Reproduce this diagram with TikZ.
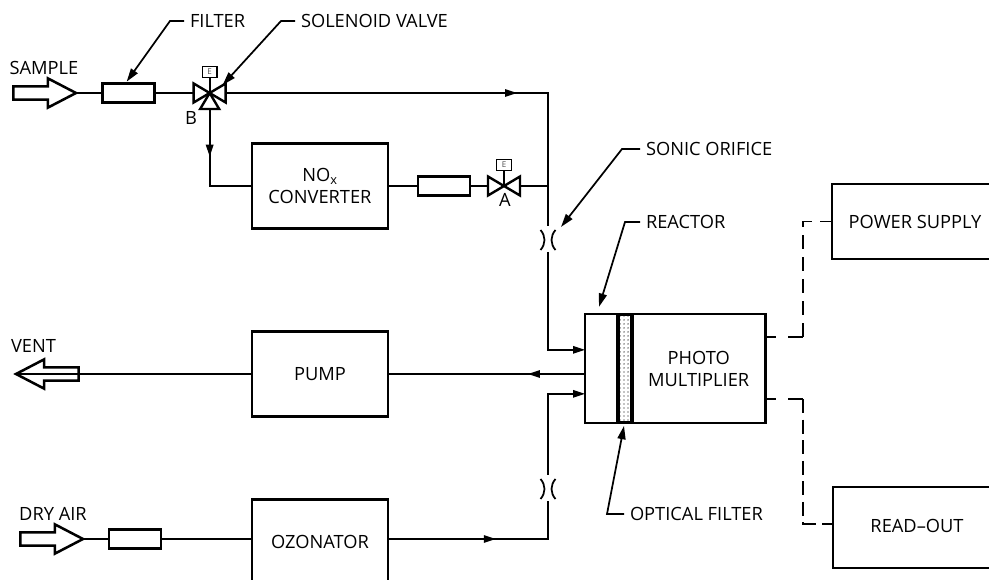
\documentclass[tikz,border=0pt]{standalone}
\usepackage{fontspec}
\setmainfont{Open Sans}
\usetikzlibrary{arrows.meta,positioning,calc,patterns.meta,shapes.arrows,decorations.markings}
\newcommand{\labelfont}{\fontsize{13.7}{16.5}\selectfont}
\tikzset{
  unit/.style={draw, line width=1.9pt, align=center, minimum height=64pt, minimum width=102pt, fill=white},
  filterbox/.style={draw, line width=1.9pt, minimum height=14pt, minimum width=39pt, inner sep=0pt, fill=white},
  ebox/.style={draw, line width=1pt, minimum height=8.5pt, minimum width=11pt, inner sep=0pt, fill=white, text=black!70, font=\fontsize{6}{6}\selectfont},
  bigarrow/.style={draw, single arrow, line width=1.9pt, fill=white, inner sep=4pt, minimum width=20pt, minimum height=47pt, single arrow head extend=6pt, single arrow tip angle=55, single arrow head indent=0pt},
  tag/.style={inner sep=4.5pt},
  wire/.style={line width=1.3pt},
  sym/.style={line width=1.8pt, line join=miter},
  flowarrow/.style={wire, -{Triangle[length=9pt,width=5.5pt]}},
  leader/.style={wire, -{Triangle[length=10pt,width=6pt]}},
  midtip/.style={postaction={decorate}, decoration={markings, mark=at position #1 with {\arrow{Triangle[length=9pt,width=5.5pt]}}}},
  valvetwo/.pic={
    \draw[sym] (-16,-9.5) -- (16,9.5) -- (16,-9.5) -- (-16,9.5) -- cycle;
    \node[ebox] (-e) at (0,-21) {E};
    \draw[wire] (0,0) -- (-e);
    \coordinate (-in) at (-16,0);
    \coordinate (-out) at (16,0);
    \coordinate (-tip) at (13,-8);
    \coordinate (-low) at (0,16);
  },
  valvethree/.pic={
    \pic (-v) {valvetwo};
    \draw[sym] (0,0) -- (9.5,16) -- (-9.5,16) -- cycle;
    \coordinate (-in) at (-16,0);
    \coordinate (-out) at (16,0);
    \coordinate (-tip) at (13,-8);
    \coordinate (-low) at (0,16);
  },
  orifice/.pic={
    \draw[wire] (-7.5,-10) .. controls (-2.2,-4) and (-2.2,4) .. (-7.5,10);
    \draw[wire] (7.5,-10) .. controls (2.2,-4) and (2.2,4) .. (7.5,10);
    \coordinate (-t) at (0,-14);
    \coordinate (-b) at (0,12);
    \coordinate (-tip) at (13,-13);
  }
}

\begin{document}
\begin{tikzpicture}[x=0.75pt, y=-0.75pt, every node/.style={font=\labelfont, outer sep=0pt}]
  \useasboundingbox (0,0) rectangle (989,580);
  \clip (0,0) rectangle (989,580);

  % main blocks
  \node[unit] (converter) at (320,186) {NO\textsubscript{x}\\CONVERTER};
  \node[unit, below=77pt of converter] (pump) {PUMP};
  \node[unit, below=62pt of pump] (ozonator) {OZONATOR};
  \node[unit, minimum width=24.75pt, minimum height=82pt] (chamber) at (601.5,368.5) {};
  \node[unit, minimum width=100pt, minimum height=82pt, xshift=10.5pt, right=0pt of chamber] (pm) {PHOTO\\MULTIPLIER};
  \node[unit, line width=2.3pt, pattern={Dots[distance=3pt, radius=0.55pt]}, minimum width=10.5pt, minimum height=81.6pt, right=0pt of chamber] (band) {};
  \node[unit, minimum width=124.5pt, minimum height=56pt] (power) at (915,221.5) {POWER SUPPLY};
  \node[unit, minimum width=126pt, minimum height=61pt, below=171pt of power, xshift=1.5pt] (readout) {\raisebox{2.5pt}{READ--OUT}};

  % inlets and vent
  \node[bigarrow, anchor=tip] (sampleIn) at (76,93) {};
  \node[bigarrow, anchor=tip, shape border rotate=180] (ventOut) at (16,374) {};
  \node[bigarrow, anchor=tip] (dryIn) at (83,539) {};
  \node[tag] (sampleLbl) at (44,68) {SAMPLE};
  \node[tag] (ventLbl) at (33.5,346) {VENT};
  \node[tag] (dryLbl) at (53,514) {DRY AIR};

  % filters, valves, orifices
  \node[filterbox, right=20pt of sampleIn.tip] (filterA) {};
  \node[filterbox, right=22.5pt of converter] (filterB) {};
  \node[filterbox, right=19.5pt of dryIn.tip] (filterC) {};
  \pic (valveB) at ([xshift=41.25pt]filterA.east) {valvethree};
  \pic (valveA) at ([xshift=25.5pt]filterB.east) {valvetwo};
  \pic (oriA) at (548,240) {orifice};
  \pic (oriB) at (548,489) {orifice};
  \node[tag] (bLbl) at (191,118) {B};
  \node[tag] (aLbl) at (505,200) {A};

  \coordinate (inletA) at ($(chamber.north west)+(0,36)$);
  \coordinate (inletB) at ($(chamber.north west)+(0,80)$);
  \coordinate (pmTop) at ($(pm.north east)+(0,23)$);
  \coordinate (pmBot) at ($(pm.south east)+(0,-24)$);
  \coordinate (kneeA) at ($(pmTop)+(38,0)$);
  \coordinate (kneeB) at ($(pmBot)+(38,0)$);

  % gas lines
  \draw[wire] (sampleIn.tip) -- (filterA);
  \draw[wire] (filterA) -- (valveB-in);
  \draw[wire, midtip=0.64] (valveB-out) -| (oriA-t);
  \draw[wire, midtip=0.40] (valveB-low) |- (converter.west);
  \draw[wire] (converter) -- (filterB);
  \draw[wire] (filterB) -- (valveA-in);
  \draw[wire] (valveA-out) -- (valveA-out -| oriA-t);
  \draw[flowarrow] (oriA-b) |- (inletA);
  \draw[wire] (ventOut.west |- pump) -- (pump);
  \draw[wire, midtip=0.29] (chamber.west |- pump) -- (pump);
  \draw[wire] (dryIn.tip) -- (filterC);
  \draw[wire] (filterC) -- (filterC -| ozonator.west);
  \draw[wire, midtip=0.545] (ozonator.east |- filterC) -| (oriB-b);
  \draw[flowarrow] (oriB-t) |- (inletB);

  % electrical lines
  \foreach \a/\b in {pmTop/kneeA,pmBot/kneeB}
    \draw[wire, dash pattern=on 8.25pt off 9pt on 12pt off 9pt] (\a) -- (\b);
  \draw[wire, dash pattern=on 10.5pt off 6pt] (kneeA) |- (power.west);
  \draw[wire, dash pattern=on 10.5pt off 4.9pt] (kneeB) |- ([yshift=2.5pt]readout.west);

  % callouts
  \node[tag, anchor=west] (filterTag) at (184,21) {FILTER};
  \node[tag, anchor=west] (valveTag) at (295,21) {SOLENOID VALVE};
  \node[tag, anchor=west] (sonicTag) at (640,149) {SONIC ORIFICE};
  \node[tag, anchor=west] (reactorTag) at (640,222) {REACTOR};
  \node[tag, anchor=west] (opticalTag) at (624,514) {OPTICAL FILTER};
  \draw[leader] (filterTag.west) -- ++(-14,0) -- ($(filterA.north)+(-2,-2)$);
  \draw[leader] (valveTag.west) -- ++(-14,0) -- (valveB-tip);
  \draw[leader] (sonicTag.west) -- ++(-18,0) -- (oriA-tip);
  \draw[leader] (reactorTag.west) -- ++(-15,0) -- ($(chamber.north)+(-2.5,-7)$);
  \draw[leader] (opticalTag.west) -- ++(-17,0) -- ($(band.south)+(-1,3)$);
\end{tikzpicture}
\end{document}
